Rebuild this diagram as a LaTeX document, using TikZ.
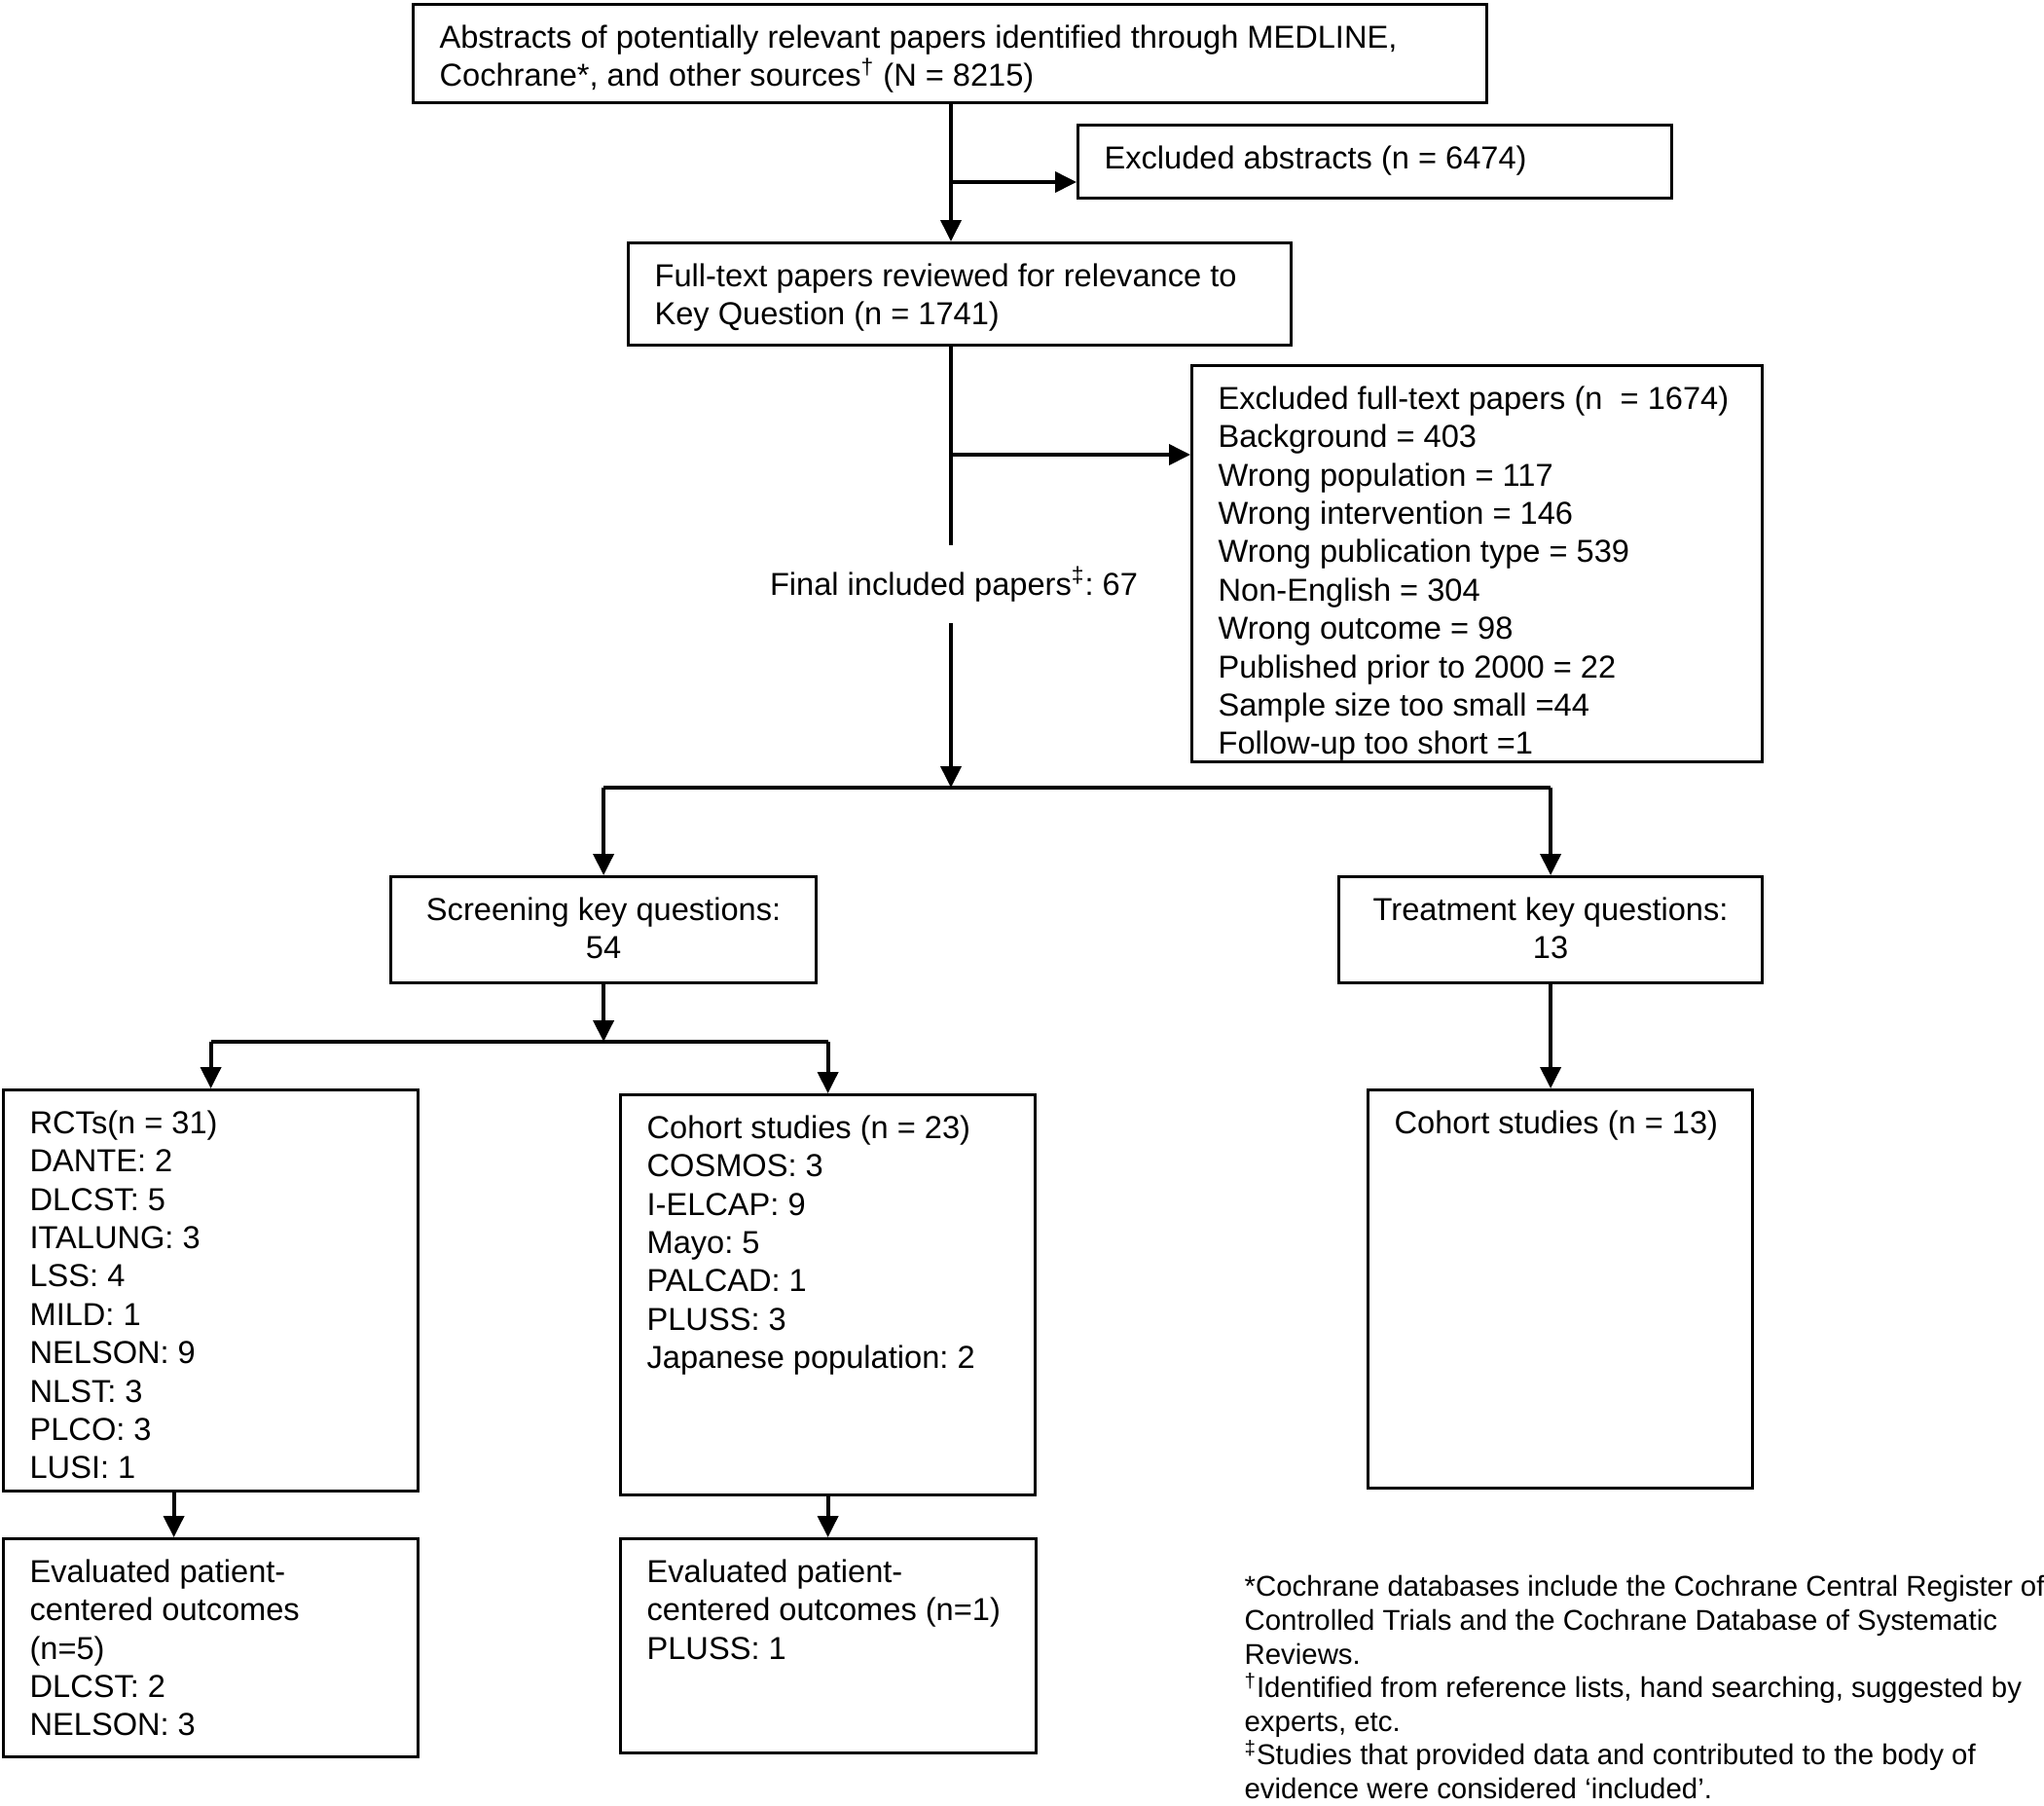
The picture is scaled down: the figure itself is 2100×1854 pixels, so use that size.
\documentclass[tikz,border=0pt]{standalone}
\usepackage{fontspec}
\setmainfont{Liberation Sans}
\usetikzlibrary{arrows.meta}
\frenchspacing
\newcommand{\boxfont}{\fontsize{16.3}{19.7}\selectfont}
\newcommand{\notefont}{\fontsize{14.7}{17.3}\selectfont}

\begin{document}
\begin{tikzpicture}[x=0.5pt, y=-0.5pt,
		every node/.style={draw,rectangle,line width=1.6pt,anchor=north west,inner xsep=13.5pt,inner ysep=10.5pt,font=\boxfont},
		link/.style={line width=1.9pt},
		arr/.style={link,-{Triangle[length=11pt,width=10.5pt]}}
	]
	\useasboundingbox (0,0) rectangle (2100,1854);
	\node (abstr) at (423,3)
	{
		\begin{minipage}[t][29.5pt][t]{524.5pt}
			Abstracts of potentially relevant papers identified through MEDLINE,\\
			Cochrane*, and other sources\textsuperscript{†} (N = 8215)
		\end{minipage}};
	\node (exabs) at (1106,127)
	{
		\begin{minipage}[t][16.5pt][t]{278pt}
			Excluded abstracts (n = 6474)
		\end{minipage}};
	\node (fulltext) at (644,248)
	{
		\begin{minipage}[t][31.5pt][t]{313.5pt}
			Full-text papers reviewed for relevance to\\
			Key Question (n = 1741)
		\end{minipage}};
	\node (exfull) at (1223,374)
	{
		\begin{minipage}[t][182.5pt][t]{266pt}
			Excluded full-text papers (n\ \ = 1674)\\
			Background = 403\\
			Wrong population = 117\\
			Wrong intervention = 146\\
			Wrong publication type = 539\\
			Non-English = 304\\
			Wrong outcome = 98\\
			Published prior to 2000 = 22\\
			Sample size too small =44\\
			Follow-up too short =1
		\end{minipage}};
	\node (final) [draw=none,anchor=center,inner sep=0pt,minimum height=38pt] at (980,600)
		{Final included papers\textsuperscript{‡}: 67};
	\node (screen) at (400,899)
	{
		\begin{minipage}[t][33.5pt][t]{191.5pt}
			\centering
			Screening key questions:\\
			54
		\end{minipage}};
	\node (treat) at (1374,899)
	{
		\begin{minipage}[t][33.5pt][t]{190.5pt}
			\centering
			Treatment key questions:\\
			13
		\end{minipage}};
	\node (rct) at (2,1118)
	{
		\begin{minipage}[t][185pt][t]{186pt}
			RCTs(n = 31)\\
			DANTE: 2\\
			DLCST: 5\\
			ITALUNG: 3\\
			LSS: 4\\
			MILD: 1\\
			NELSON: 9\\
			NLST: 3\\
			PLCO: 3\\
			LUSI: 1
		\end{minipage}};
	\node (cohort) at (636,1123)
	{
		\begin{minipage}[t][184.5pt][t]{186pt}
			Cohort studies (n = 23)\\
			COSMOS: 3\\
			I-ELCAP: 9\\
			Mayo: 5\\
			PALCAD: 1\\
			PLUSS: 3\\
			Japanese population: 2
		\end{minipage}};
	\node (cohortT) at (1404,1118)
	{
		\begin{minipage}[t][183.5pt][t]{170.5pt}
			Cohort studies (n = 13)
		\end{minipage}};
	\node (eval1) at (2,1579)
	{
		\begin{minipage}[t][91pt][t]{186pt}
			Evaluated patient-\\
			centered outcomes\\
			(n=5)\\
			DLCST: 2\\
			NELSON: 3
		\end{minipage}};
	\node (eval2) at (636,1579)
	{
		\begin{minipage}[t][89pt][t]{186.5pt}
			Evaluated patient-\\
			centered outcomes (n=1)\\
			PLUSS: 1
		\end{minipage}};
	\node (notes) [draw=none,inner sep=0pt,font=\notefont] at (1277,1617)
	{
		\begin{minipage}[t]{425pt}
			*Cochrane databases include the Cochrane Central Register of\\
			Controlled Trials and the Cochrane Database of Systematic\\
			Reviews.\\
			\textsuperscript{†}Identified from reference lists, hand searching, suggested by\\
			experts, etc.\\
			\textsuperscript{‡}Studies that provided data and contributed to the body of\\
			evidence were considered ‘included’.
		\end{minipage}};
	% junctions on the trunk
	\coordinate (trunk) at (977,0);
	\coordinate (toExAbs) at (977,187);
	\coordinate (toExFull) at (977,467);
	\coordinate (split) at (977,809);
	\coordinate (splitScreen) at (615,1070);
	\draw[arr] (abstr.south -| trunk) -- (fulltext.north -| trunk);
	\draw[arr] (toExAbs) -- (toExAbs -| exabs.west);
	\draw[link] (fulltext.south -| trunk) -- (final.north -| trunk);
	\draw[arr] (toExFull) -- (toExFull -| exfull.west);
	\draw[arr] (final.south -| trunk) -- (split);
	\draw[link] (split -| screen.north) -- (split -| treat.north);
	\draw[arr] (split -| screen.north) -- (screen.north);
	\draw[arr] (split -| treat.north) -- (treat.north);
	\draw[arr] (screen.south) -- (screen.south |- splitScreen);
	\draw[link] (splitScreen -| rct.north) -- (splitScreen -| cohort.north);
	\draw[arr] (splitScreen -| rct.north) -- (rct.north);
	\draw[arr] (splitScreen -| cohort.north) -- (cohort.north);
	\draw[arr] (treat.south) -- (treat.south |- cohortT.north);
	\draw[arr] ([xshift=-19pt]rct.south) -- ([xshift=-19pt]eval1.north);
	\draw[arr] (cohort.south) -- (cohort.south |- eval2.north);
\end{tikzpicture}
\end{document}
